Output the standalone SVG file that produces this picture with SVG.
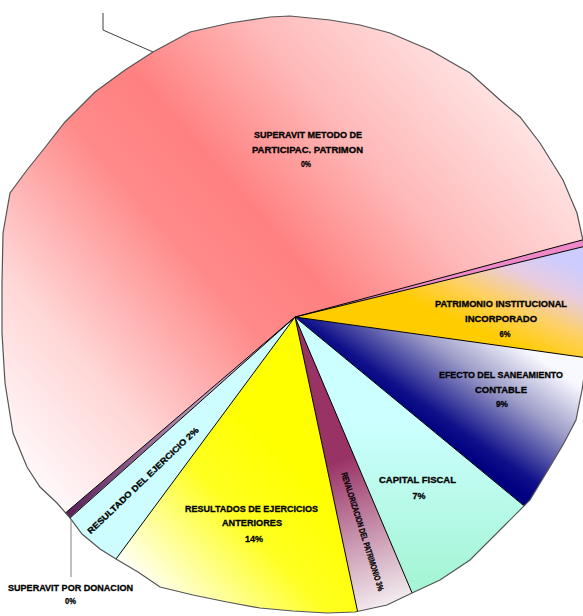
<svg xmlns="http://www.w3.org/2000/svg" width="583" height="616" viewBox="0 0 583 616">
<style>
.lbl{font-family:"Liberation Sans",Arial,sans-serif;font-weight:bold;font-size:9.5px;fill:#000;stroke:#000;stroke-width:0.3;text-anchor:middle}
.rot{font-size:8.5px}
.rad{stroke:#000;stroke-width:1;fill:none}
.edge{stroke:#555;stroke-width:1.2;fill:none}
.lead{fill:none;stroke-width:1}
</style>
<defs>
<clipPath id="pieClip"><path id="outlineShape" d="M290,16 L330,20 L360,25 L390,33 L430,50 L470,73 L500,100 L520,117 L540,143 L563,180 L577,213 L584,245 L590,300 L588,350 L582,390 L576,420 L564,443 L548,470 L530,500 L505,525 L470,560 L440,580 L412,593 L387,605 L355,612 L327,613 L293,611 L260,608 L227,602 L193,595 L160,587 L138,572 L116,559 L100,549 L82,534 L70,518 L57,503 L40,487 L27,467 L13,433 L5,383 L2,333 L2,283 L3,233 L10,193 L27,170 L43,150 L65,122 L95,92 L125,70 L153,52 L190,32 L230,23 L270,17 Z"/></clipPath>
<linearGradient id="gPink" gradientUnits="userSpaceOnUse" x1="60" y1="500" x2="520" y2="100">
<stop offset="0" stop-color="#fff6f8"/><stop offset="0.18" stop-color="#ffd6d6"/><stop offset="0.42" stop-color="#ff8a8a"/><stop offset="0.55" stop-color="#ff8080"/><stop offset="0.75" stop-color="#ffb8b8"/><stop offset="1" stop-color="#ffe6e6"/>
</linearGradient>
<linearGradient id="gOrange" gradientUnits="userSpaceOnUse" x1="500" y1="340" x2="540" y2="250">
<stop offset="0" stop-color="#ffcc00"/><stop offset="0.35" stop-color="#ffd060"/><stop offset="0.7" stop-color="#e8cce0"/><stop offset="1" stop-color="#ccccff"/>
</linearGradient>
<linearGradient id="gNavy" gradientUnits="userSpaceOnUse" x1="500" y1="480" x2="570" y2="380">
<stop offset="0" stop-color="#000080"/><stop offset="0.15" stop-color="#10108a"/><stop offset="0.6" stop-color="#9c9cc8"/><stop offset="1" stop-color="#f8f8ff"/>
</linearGradient>
<linearGradient id="gCyan" gradientUnits="userSpaceOnUse" x1="0" y1="420" x2="0" y2="580">
<stop offset="0" stop-color="#ccffff"/><stop offset="1" stop-color="#a6f5d6"/>
</linearGradient>
<linearGradient id="gMaroon" gradientUnits="userSpaceOnUse" x1="340" y1="460" x2="395" y2="600">
<stop offset="0" stop-color="#993366"/><stop offset="1" stop-color="#f2eaee"/>
</linearGradient>
<linearGradient id="gYellow" gradientUnits="userSpaceOnUse" x1="170" y1="610" x2="310" y2="480">
<stop offset="0" stop-color="#fffff2"/><stop offset="0.6" stop-color="#ffff20"/><stop offset="1" stop-color="#ffff00"/>
</linearGradient>
<linearGradient id="gPurple" gradientUnits="userSpaceOnUse" x1="70" y1="517" x2="220" y2="390">
<stop offset="0" stop-color="#5a205a"/><stop offset="1" stop-color="#c8a8c8"/>
</linearGradient>
</defs>
<rect width="583" height="616" fill="#fff"/>
<g clip-path="url(#pieClip)">
<g id="slice-superavit-metodo"><polygon points="295,317 -85.2,641.7 -205,317 -60.5,-36.6 295,-183 648.6,-36.6 778,187.6" fill="url(#gPink)"/></g>
<g id="slice-thin-magenta"><polygon points="295,317 778,187.6 780.8,198.6" fill="#ee88c8"/></g>
<g id="slice-patrimonio"><polygon points="295,317 780.8,198.6 790.1,386.6" fill="url(#gOrange)"/></g>
<g id="slice-efecto"><polygon points="295,317 790.1,386.6 680.8,635.1" fill="url(#gNavy)"/></g>
<g id="slice-capital"><polygon points="295,317 680.8,635.1 490.4,777.3" fill="url(#gCyan)"/></g>
<g id="slice-maroon"><polygon points="295,317 490.4,777.3 399,806" fill="url(#gMaroon)"/></g>
<g id="slice-resultados"><polygon points="295,317 399,806 -2.4,719" fill="url(#gYellow)"/></g>
<g id="slice-lightcyan"><polygon points="295,317 -2.4,719 -78.3,649.6" fill="#cdfdff"/></g>
<g id="slice-donacion"><polygon points="295,317 -78.3,649.6 -85.2,641.7" fill="url(#gPurple)"/></g>
</g>
<g id="slice-borders">
<line class="rad" x1="295" y1="317" x2="584" y2="239.5"/>
<line class="rad" x1="295" y1="317" x2="584" y2="246.5"/>
<line class="rad" x1="295" y1="317" x2="588" y2="358"/>
<line class="rad" x1="295" y1="317" x2="523.6" y2="505.5"/>
<line class="rad" x1="295" y1="317" x2="412.2" y2="593.2"/>
<line class="rad" x1="295" y1="317" x2="357.6" y2="611.6"/>
<line class="rad" x1="295" y1="317" x2="116" y2="559"/>
<line class="rad" x1="295" y1="317" x2="70" y2="518"/>
<line class="rad" x1="295" y1="317" x2="65.4" y2="513"/>
<use href="#outlineShape" class="edge"/>
</g>
<g id="connectors">
<polyline class="lead" stroke="#404040" points="103,13 103,30 153,52"/>
<line class="lead" stroke="#808080" stroke-width="1.3" x1="71" y1="519" x2="71" y2="577"/>
</g>
<g id="labels">
<g id="label-superavit-metodo">
<text class="lbl" x="308" y="138" textLength="108" lengthAdjust="spacingAndGlyphs">SUPERAVIT METODO DE</text>
<text class="lbl" x="307.5" y="153" textLength="111" lengthAdjust="spacingAndGlyphs">PARTICIPAC. PATRIMON</text>
<text class="lbl" x="306" y="167" textLength="10" lengthAdjust="spacingAndGlyphs">0%</text>
</g>
<g id="label-patrimonio">
<text class="lbl" x="501" y="307" textLength="132" lengthAdjust="spacingAndGlyphs">PATRIMONIO INSTITUCIONAL</text>
<text class="lbl" x="501" y="321.5" textLength="72" lengthAdjust="spacingAndGlyphs">INCORPORADO</text>
<text class="lbl" x="505" y="336.5" textLength="11" lengthAdjust="spacingAndGlyphs">6%</text>
</g>
<g id="label-efecto">
<text class="lbl" x="501" y="377.5" textLength="124" lengthAdjust="spacingAndGlyphs">EFECTO DEL SANEAMIENTO</text>
<text class="lbl" x="501" y="392.5" textLength="52" lengthAdjust="spacingAndGlyphs">CONTABLE</text>
<text class="lbl" x="502" y="406.5" textLength="12" lengthAdjust="spacingAndGlyphs">9%</text>
</g>
<g id="label-capital">
<text class="lbl" x="417.5" y="482.5" textLength="77" lengthAdjust="spacingAndGlyphs">CAPITAL FISCAL</text>
<text class="lbl" x="419" y="499" textLength="13" lengthAdjust="spacingAndGlyphs">7%</text>
</g>
<g id="label-resultados">
<text class="lbl" x="251.5" y="511.5" textLength="133" lengthAdjust="spacingAndGlyphs">RESULTADOS DE EJERCICIOS</text>
<text class="lbl" x="252" y="526" textLength="60" lengthAdjust="spacingAndGlyphs">ANTERIORES</text>
<text class="lbl" x="254" y="541.5" textLength="18" lengthAdjust="spacingAndGlyphs">14%</text>
</g>
<g id="label-donacion">
<text class="lbl" x="70.5" y="590.5" textLength="125" lengthAdjust="spacingAndGlyphs">SUPERAVIT POR DONACION</text>
<text class="lbl" x="70.5" y="604" textLength="11" lengthAdjust="spacingAndGlyphs">0%</text>
</g>
<g id="label-maroon">
<text class="lbl rot" transform="translate(362.7,531.6) rotate(72.5)" x="0" y="3" textLength="124" lengthAdjust="spacingAndGlyphs">REVALORIZACION DEL PATRIMONIO 3%</text>
</g>
<g id="label-lightcyan">
<text class="lbl rot" transform="translate(143,480.5) rotate(-43.7)" x="0" y="3" textLength="150" lengthAdjust="spacingAndGlyphs">RESULTADO DEL EJERCICIO 2%</text>
</g>
</g>
</svg>
